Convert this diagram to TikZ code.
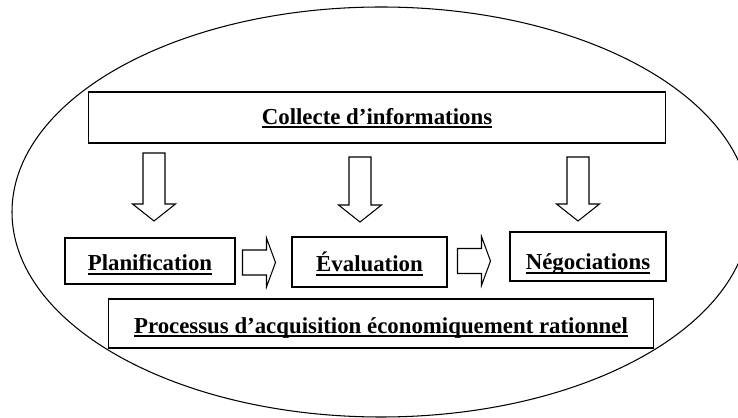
\documentclass[tikz,border=0pt]{standalone}
\usepackage{fontspec}
\setmainfont{Liberation Serif}
\usetikzlibrary{calc}

\def\px{0.569055pt}
\newcommand{\souligne}[1]{\setbox0\hbox{#1}\rlap{\rule[-2.4pt]{\wd0}{1.1pt}}\box0}
% hollow block arrows, tail -> tip
\newcommand{\flechebas}[2]{%
  \draw[fleche] let \p1=(#1), \p2=(#2) in
    (\x1-11*\px,\y1) -- (\x1-11*\px,\y2+17*\px) -- (\x1-21.5*\px,\y2+17*\px)
    -- (\x1,\y2) -- (\x1+21.5*\px,\y2+17*\px) -- (\x1+11*\px,\y2+17*\px)
    -- (\x1+11*\px,\y1) -- cycle;}
\newcommand{\flechedroite}[2]{%
  \draw[fleche] let \p1=(#1), \p2=(#2) in
    (\x1,\y1+12.5*\px) -- (\x2-9*\px,\y1+12.5*\px) -- (\x2-9*\px,\y1+24.5*\px)
    -- (\x2,\y1) -- (\x2-9*\px,\y1-24.5*\px) -- (\x2-9*\px,\y1-12.5*\px)
    -- (\x1,\y1-12.5*\px) -- cycle;}

\tikzset{
  boite/.style={draw,line width=0.6pt,inner sep=0pt,text height=11pt,text depth=0pt,
    font=\fontsize{13}{15}\selectfont\bfseries},
  fleche/.style={line width=0.6pt,line join=miter}
}

\begin{document}
\begin{tikzpicture}[x=0.02cm,y=-0.02cm]
      \useasboundingbox (0,0) rectangle (738,418);
      % Ellipse
      \begin{scope}
        \clip (0,0) rectangle (738,418);
        \draw[line width=0.6pt] (381,212) ellipse [x radius=369,y radius=205];
      \end{scope}
      % Boxes
      \node[boite,minimum width=11.56cm,minimum height=1.02cm,text height=7.5pt] (collecte) at (377,117.5) {\souligne{Collecte d’informations}};
      \node[boite,minimum width=3.4cm,minimum height=0.92cm] (planif) at (150,261) {\souligne{Planification}};
      \node[boite,minimum width=3.1cm,minimum height=1cm] (eval) at (369.5,262) {\souligne{Évaluation}};
      \node[boite,minimum width=3.12cm,minimum height=0.98cm,text height=15pt] (nego) at (588,256.5) {\souligne{Négociations}};
      \node[boite,minimum width=10.92cm,minimum height=0.98cm] (processus) at (381,323.5) {\souligne{Processus d’acquisition économiquement rationnel}};
      % Down arrows
      \coordinate (h1) at (154,153);
      \coordinate (b1) at (154,221);
      \coordinate (h2) at (360,157);
      \coordinate (b2) at (360,222);
      \coordinate (h3) at (578,157);
      \coordinate (b3) at (578,221);
      \foreach \i in {1,2,3}{
        \flechebas{h\i}{b\i}
      }
      % Right arrows
      \coordinate (g1) at ([xshift=7*\px,yshift=-1.5*\px]planif.east);
      \coordinate (t1) at ([xshift=-16*\px]eval.west);
      \coordinate (g2) at ([xshift=10*\px,yshift=1*\px]eval.east);
      \coordinate (t2) at ([xshift=-19*\px]nego.west);
      \flechedroite{g1}{t1}
      \flechedroite{g2}{t2}
    \end{tikzpicture}
\end{document}
